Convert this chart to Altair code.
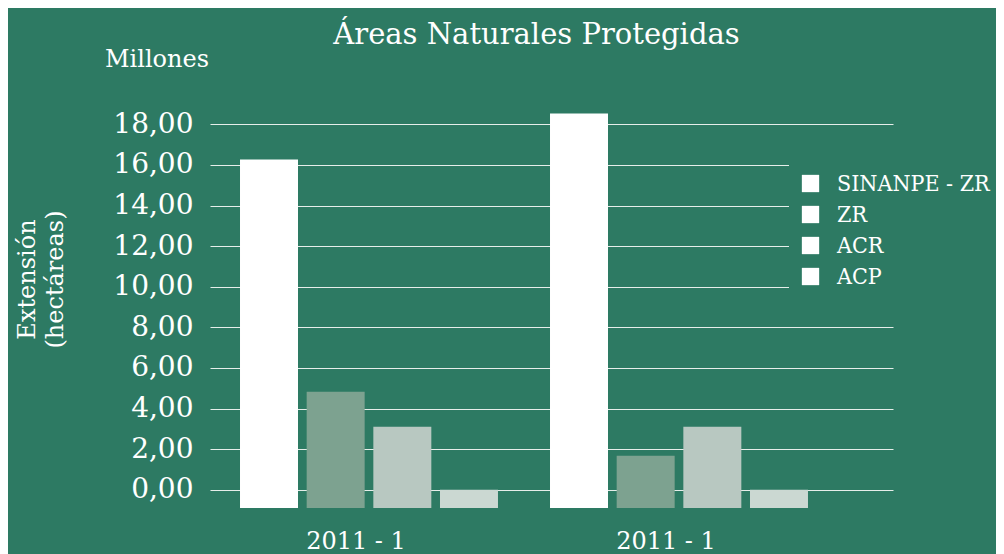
import altair as alt
import pandas as pd

# ---- data ----
groups = ["2011 - 1", "2011 - 1 "]          # two groups, both labelled "2011 - 1"
series = ["SINANPE - ZR", "ZR", "ACR", "ACP"]
values_g1 = [16.27, 4.83, 3.10, 0.0]
values_g2 = [18.54, 1.68, 3.10, 0.0]
colors = ["#ffffff", "#7da290", "#b8c8c1", "#cbd8d2"]
legend_colors = ["#ffffff", "#ffffff", "#ffffff", "#ffffff"]
y_ticks = [0, 2, 4, 6, 8, 10, 12, 14, 16, 18]
baseline = -0.9

rows = []
for g, vals in zip(groups, [values_g1, values_g2]):
    for s, v in zip(series, vals):
        rows.append({"grupo": g, "serie": s, "leyenda": s, "valor": v, "base": baseline})
df = pd.DataFrame(rows)

FONT = "DejaVu Serif"
FONT_C = "DejaVu Serif Condensed"
BG = "#2d7a63"
WHITE = "#ffffff"

x_enc = alt.X(
    "grupo:N",
    sort=groups,
    scale=alt.Scale(paddingInner=0.142, paddingOuter=0.1726, align=0.243),
    axis=alt.Axis(
        title=None, labelAngle=0, labelExpr="trim(datum.label)",
        domain=False, ticks=False, labelPadding=21, labelOffset=-13,
        labelFont=FONT, labelFontSize=24, labelColor=WHITE,
    ),
)
xoff_enc = alt.XOffset("serie:N", sort=series,
                       scale=alt.Scale(paddingInner=0.13, paddingOuter=0.06))
y_enc = alt.Y(
    "valor:Q",
    scale=alt.Scale(domain=[-0.9, 19.2], nice=False, zero=False),
    axis=alt.Axis(
        values=y_ticks,
        labelExpr="replace(format(datum.value, '.2f'), '.', ',')",
        domain=False, ticks=False, labelPadding=17,
        labelFont=FONT, labelFontSize=28, labelColor=WHITE,
        grid=True, gridColor="#e6eeea", gridWidth=1.2,
        title=["Extensión", "(hectáreas)"],
        titleFont=FONT, titleFontSize=24, titleFontWeight="normal",
        titleColor=WHITE, titleAngle=-90, titleAlign="center",
        titleBaseline="middle", titleX=-183, titleY=179, titleLineHeight=28,
    ),
)

bars = alt.Chart(df).mark_bar().encode(
    x=x_enc,
    xOffset=xoff_enc,
    y=y_enc,
    y2="base:Q",
    color=alt.Color("serie:N", sort=series,
                    scale=alt.Scale(range=colors), legend=None),
)

# zero-height bars that only supply the (all-white) legend
legend_layer = alt.Chart(df).mark_bar().encode(
    x=x_enc,
    xOffset=xoff_enc,
    y=alt.Y("base:Q"),
    y2="base:Q",
    fill=alt.Fill(
        "leyenda:N", sort=series,
        scale=alt.Scale(range=legend_colors),
        legend=alt.Legend(
            title=None, orient="none", legendX=579, legendY=62,
            symbolType="square", symbolSize=300, symbolStrokeWidth=0,
            labelFont=FONT_C, labelFontSize=23, labelColor=WHITE,
            labelOffset=15, rowPadding=7, labelLimit=300,
            fillColor=BG, padding=10,
        ),
    ),
)

millones = alt.Chart(pd.DataFrame({"t": ["Millones"]})).mark_text(
    align="left", baseline="middle", font=FONT, fontSize=24, color=WHITE
).encode(x=alt.value(-105), y=alt.value(-40), text="t:N")

chart = alt.layer(bars, legend_layer, millones).properties(
    width=683,
    height=408,
    background=BG,
    padding={"left": 202, "top": 92, "right": 103, "bottom": 46},
    autosize=alt.AutoSizeParams(type="none"),
    title=alt.TitleParams(
        "Áreas Naturales Protegidas", font=FONT, fontSize=29,
        fontWeight="normal", color=WHITE, anchor="middle", dx=-15, offset=6, dy=8,
    ),
).configure_view(stroke=None)

chart.save("out.html", embed_options={"renderer": "svg", "actions": False})
